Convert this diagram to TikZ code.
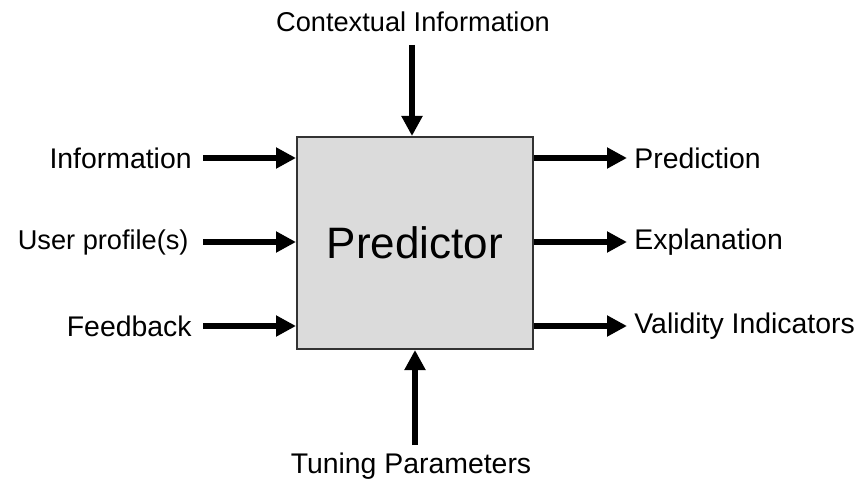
\documentclass[tikz,border=0pt]{standalone}
\usepackage{fontspec}
\setmainfont{Liberation Sans}
\usetikzlibrary{arrows.meta}

\begin{document}
\begin{tikzpicture}[x=0.5pt,y=-0.5pt]
  \tikzstyle{every node}+=[inner sep=0pt, font=\fontsize{14.2}{17}\selectfont]
  \tikzstyle{flow}=[line width=3pt, -{Triangle[length=10pt,width=10pt]}]
  \tikzstyle{narrow}=[font=\fontsize{13.6}{16}\selectfont]
  \useasboundingbox (0,0) rectangle (858,481);
  % the predictor block
  \node [draw=black!80, line width=1pt, fill=black!14, minimum width=118pt, minimum height=106pt,
    font=\fontsize{22}{26}\selectfont] (pred) at (415,243) {Predictor};
  % inputs on the left
  \coordinate (in1) at (203,158);
  \coordinate (in2) at (203,242);
  \coordinate (in3) at (203,326);
  \node [anchor=east] (info) at (192,158) {Information};
  \node [anchor=east, narrow] (user) at (189,242) {User profile(s)};
  \node [anchor=east] (feed) at (192,326) {Feedback};
  \draw [flow] (in1) -- (in1 -| pred.west);
  \draw [flow] (in2) -- (in2 -| pred.west);
  \draw [flow] (in3) -- (in3 -| pred.west);
  % outputs on the right
  \coordinate (out1) at (627,158);
  \coordinate (out2) at (627,242);
  \coordinate (out3) at (627,326);
  \node [anchor=west] (predict) at (634,158) {Prediction};
  \node [anchor=west] (expl) at (634,242) {Explanation};
  \node [anchor=west] (valid) at (634,326) {Validity Indicators};
  \draw [flow] (out1 -| pred.east) -- (out1);
  \draw [flow] (out2 -| pred.east) -- (out2);
  \draw [flow] (out3 -| pred.east) -- (out3);
  % context from above, tuning from below
  \node [narrow] (ctx) at (413,22) {Contextual Information};
  \coordinate (top) at (412,45);
  \draw [flow] (top) -- (top |- pred.north);
  \node (tune) at (411,466) {Tuning Parameters};
  \coordinate (bot) at (415,445);
  \draw [flow] (bot) -- (bot |- pred.south);
\end{tikzpicture}
\end{document}
